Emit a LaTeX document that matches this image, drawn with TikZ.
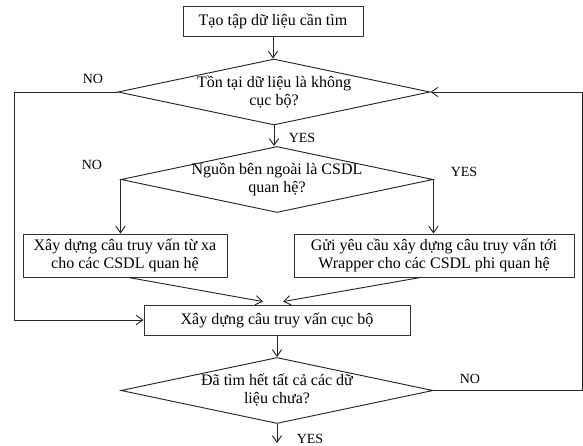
\documentclass[tikz,border=0pt]{standalone}
\usepackage{fontspec}
\setmainfont{Liberation Serif}
\usetikzlibrary{arrows.meta,calc,shapes.geometric}

\tikzset{
  hop/.style={draw=black!80, line width=0.6pt, minimum height=22.5pt, inner sep=0pt,
    font=\fontsize{12}{13}\selectfont, align=center},
  thoi/.style={draw=black!85, line width=0.7pt, diamond, shape aspect=4.7,
    inner xsep=0pt, inner ysep=-4pt, minimum width=234pt, minimum height=49.5pt,
    font=\fontsize{12}{13.5}\selectfont, align=center,
    execute at begin node={\rule{0pt}{14pt}}},
  nhan/.style={font=\fontsize{10.5}{12}\selectfont, inner sep=0pt},
  mui/.style={draw=black!85, line width=0.7pt, -{Straight Barb[length=5pt,width=7pt]}},
}

\begin{document}
\begin{tikzpicture}[x=0.75pt, y=-0.75pt]
\useasboundingbox (0,0) rectangle (583,446);

% cac khoi
\node[hop, minimum width=135pt] (tao) at (273,21) {Tạo tập dữ liệu cần tìm};
\node[thoi] (tontai) at (274,92) {Tồn tại dữ liệu là không\\cục bộ?};
\node[thoi] (nguon) at (277,179.5) {Nguồn bên ngoài là CSDL\\quan hệ?};
\node[hop, minimum width=153pt, minimum height=32.25pt] (xa) at (125,255.5)
  {Xây dựng câu truy vấn từ xa\\cho các CSDL quan hệ};
\node[hop, minimum width=210pt, minimum height=32.25pt] (gui) at (434,255.5)
  {Gửi yêu cầu xây dựng câu truy vấn tới\\Wrapper cho các CSDL phi quan hệ};
\node[hop, minimum width=199.5pt] (cucbo) at (277,320) {Xây dựng câu truy vấn cục bộ};
\node[thoi] (het) at (277,390.5) {Đã tìm hết tất cả các dữ\\liệu chưa?};

% nhan
\node[nhan] (no1) at (93,79) {NO};
\node[nhan] (yes1) at (302,138) {YES};
\node[nhan] (no2) at (92,165) {NO};
\node[nhan] (yes2) at (464,172) {YES};
\node[nhan] (no3) at (470,379) {NO};
\node[nhan] (yes3) at (310,439) {YES};

\coordinate (trai) at (14,0);
\coordinate (phai) at (582,0);
\coordinate (cuoi) at (277,443);

% mui ten
\draw[mui] (tao.south) -- (tao.south |- tontai.north);
\draw[mui] (tontai.south) -- (tontai.south |- nguon.north);
\draw[mui] (tontai.west) -- (tontai.west -| trai) |- (cucbo.west);
\draw[mui] (nguon.west) -- (nguon.west |- xa.north);
\draw[mui] (nguon.east) -- (nguon.east |- gui.north);
\draw[mui] ($(xa.south)+(3,0)$) -- ($(cucbo.north)+(-14,-3)$);
\draw[mui] ($(gui.south)+(-13,0)$) -- ($(cucbo.north)+(6,-3)$);
\draw[mui] (cucbo.south) -- (het.north);
\draw[mui] (het.south) -- (cuoi);
\draw[mui] (het.east) -- (het.east -| phai) |- (tontai.east);
% \draw[mui] (het.east) -- ++(150,0);

\end{tikzpicture}
\end{document}
